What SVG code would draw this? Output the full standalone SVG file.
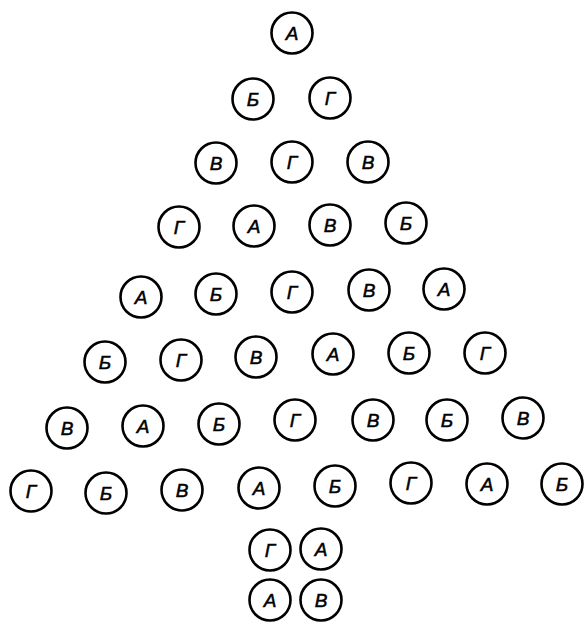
<svg xmlns="http://www.w3.org/2000/svg" width="584" height="623" viewBox="0 0 584 623">
<style>
.n circle{fill:#fff;stroke:#000;stroke-width:2.6}
.n text{font-family:"Liberation Sans","DejaVu Sans",sans-serif;font-style:italic;font-size:19px;fill:#000;stroke:#000;stroke-width:0.5;text-anchor:middle;dominant-baseline:central}
</style>
<rect width="584" height="623" fill="#fff"/>
<g id="connectors"/>
<g id="n1" class="n"><circle cx="292" cy="33" r="20.5"/><text x="292" y="33">А</text></g>
<g id="n2" class="n"><circle cx="253" cy="99" r="20.5"/><text x="253" y="99">Б</text></g>
<g id="n3" class="n"><circle cx="330" cy="98" r="20.5"/><text x="330" y="98">Г</text></g>
<g id="n4" class="n"><circle cx="216" cy="163" r="20.5"/><text x="216" y="163">В</text></g>
<g id="n5" class="n"><circle cx="292" cy="162" r="20.5"/><text x="292" y="162">Г</text></g>
<g id="n6" class="n"><circle cx="368" cy="162" r="20.5"/><text x="368" y="162">В</text></g>
<g id="n7" class="n"><circle cx="179" cy="227" r="20.5"/><text x="179" y="227">Г</text></g>
<g id="n8" class="n"><circle cx="254" cy="226" r="20.5"/><text x="254" y="226">А</text></g>
<g id="n9" class="n"><circle cx="330" cy="225" r="20.5"/><text x="330" y="225">В</text></g>
<g id="n10" class="n"><circle cx="406" cy="223" r="20.5"/><text x="406" y="223">Б</text></g>
<g id="n11" class="n"><circle cx="141" cy="297" r="20.5"/><text x="141" y="297">А</text></g>
<g id="n12" class="n"><circle cx="216" cy="294" r="20.5"/><text x="216" y="294">Б</text></g>
<g id="n13" class="n"><circle cx="292" cy="292" r="20.5"/><text x="292" y="292">Г</text></g>
<g id="n14" class="n"><circle cx="369" cy="290" r="20.5"/><text x="369" y="290">В</text></g>
<g id="n15" class="n"><circle cx="444" cy="289" r="20.5"/><text x="444" y="289">А</text></g>
<g id="n16" class="n"><circle cx="105" cy="362" r="20.5"/><text x="105" y="362">Б</text></g>
<g id="n17" class="n"><circle cx="181" cy="360" r="20.5"/><text x="181" y="360">Г</text></g>
<g id="n18" class="n"><circle cx="256" cy="357" r="20.5"/><text x="256" y="357">В</text></g>
<g id="n19" class="n"><circle cx="333" cy="354" r="20.5"/><text x="333" y="354">А</text></g>
<g id="n20" class="n"><circle cx="409" cy="353" r="20.5"/><text x="409" y="353">Б</text></g>
<g id="n21" class="n"><circle cx="485" cy="353" r="20.5"/><text x="485" y="353">Г</text></g>
<g id="n22" class="n"><circle cx="67" cy="428" r="20.5"/><text x="67" y="428">В</text></g>
<g id="n23" class="n"><circle cx="143" cy="426" r="20.5"/><text x="143" y="426">А</text></g>
<g id="n24" class="n"><circle cx="219" cy="424" r="20.5"/><text x="219" y="424">Б</text></g>
<g id="n25" class="n"><circle cx="295" cy="420" r="20.5"/><text x="295" y="420">Г</text></g>
<g id="n26" class="n"><circle cx="373" cy="420" r="20.5"/><text x="373" y="420">В</text></g>
<g id="n27" class="n"><circle cx="447" cy="420" r="20.5"/><text x="447" y="420">Б</text></g>
<g id="n28" class="n"><circle cx="523" cy="418" r="20.5"/><text x="523" y="418">В</text></g>
<g id="n29" class="n"><circle cx="31" cy="491" r="20.5"/><text x="31" y="491">Г</text></g>
<g id="n30" class="n"><circle cx="106" cy="493" r="20.5"/><text x="106" y="493">Б</text></g>
<g id="n31" class="n"><circle cx="182" cy="490" r="20.5"/><text x="182" y="490">В</text></g>
<g id="n32" class="n"><circle cx="259" cy="488" r="20.5"/><text x="259" y="488">А</text></g>
<g id="n33" class="n"><circle cx="335" cy="486" r="20.5"/><text x="335" y="486">Б</text></g>
<g id="n34" class="n"><circle cx="411" cy="483" r="20.5"/><text x="411" y="483">Г</text></g>
<g id="n35" class="n"><circle cx="487" cy="484" r="20.5"/><text x="487" y="484">А</text></g>
<g id="n36" class="n"><circle cx="562" cy="484" r="20.5"/><text x="562" y="484">Б</text></g>
<g id="n37" class="n"><circle cx="270" cy="550" r="20.5"/><text x="270" y="550">Г</text></g>
<g id="n38" class="n"><circle cx="321" cy="549" r="20.5"/><text x="321" y="549">А</text></g>
<g id="n39" class="n"><circle cx="270" cy="600" r="20.5"/><text x="270" y="600">А</text></g>
<g id="n40" class="n"><circle cx="321" cy="600" r="20.5"/><text x="321" y="600">В</text></g>
</svg>
